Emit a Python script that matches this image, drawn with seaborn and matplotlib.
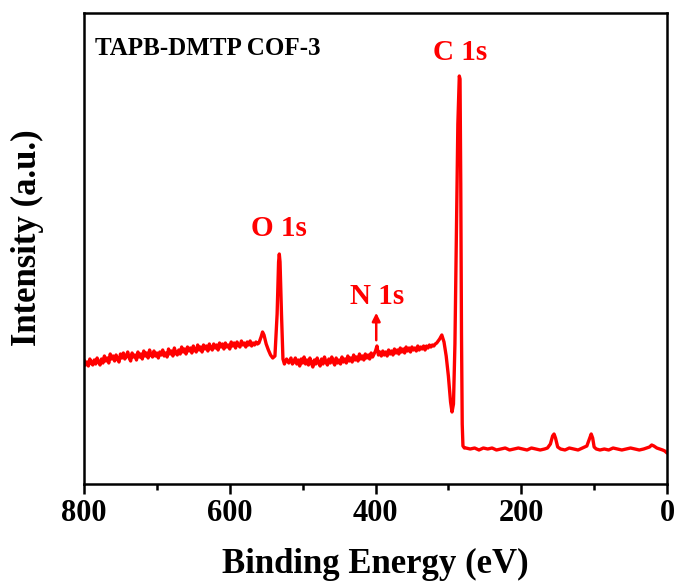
import matplotlib
matplotlib.use("Agg")
import matplotlib.pyplot as plt
import seaborn as sns
import pandas as pd
from matplotlib.ticker import MultipleLocator

# ---- data (binding energy in eV, intensity in a.u.) ----
# high-energy background (800 -> 562 eV, every 2 eV)
energy_bg1 = list(range(800, 561, -2))
intensity_bg1 = [
    124, 119, 122, 118, 125, 121, 119, 124, 120, 126, 122,
    119, 125, 121, 128, 123, 126, 121, 130, 125, 128,
    123, 129, 125, 122, 130, 126, 131, 125, 128, 132,
    126, 123, 131, 127, 129, 124, 132, 127, 130, 125,
    133, 128, 131, 126, 134, 129, 127, 133, 128, 131,
    126, 132, 129, 134, 128, 131, 127, 135, 130, 133,
    128, 136, 131, 129, 134, 130, 137, 132, 135, 130,
    137, 133, 136, 131, 138, 134, 132, 139, 134, 137,
    132, 139, 135, 138, 133, 140, 136, 134, 140, 136,
    139, 134, 141, 137, 140, 135, 141, 137, 139, 135,
    142, 138, 141, 136, 142, 139, 137, 143, 139, 141,
    137, 142, 139, 143, 138, 141, 139, 142, 140,
]
# O KLL shoulder and O 1s
energy_o = [560, 557, 555, 553, 550, 547, 544, 541, 538, 535, 533, 532, 531,
            529, 527, 525, 522, 519, 516, 514]
intensity_o = [141, 147, 152, 149, 140, 134, 129, 126, 128, 170, 222, 230, 222,
               170, 125, 120, 125, 121, 126, 120]
# middle background incl. N 1s (512 -> 314 eV, every 2 eV)
energy_bg2 = list(range(512, 313, -2))
intensity_bg2 = [
    122, 126, 120, 124, 118, 125, 121, 127, 120, 124,
    119, 126, 121, 117, 124, 120, 126, 121, 118, 125,
    120, 127, 122, 119, 125, 121, 127, 122, 119, 126,
    121, 124, 120, 127, 122, 125, 121, 128, 123, 126,
    122, 129, 124, 127, 123, 130, 125, 128, 124, 130,
    126, 129, 125, 131, 127, 130, 133, 138, 129, 132,
    128, 133, 129, 132, 128, 134, 130, 133, 129, 135,
    131, 134, 130, 136, 132, 135, 131, 137, 133, 136,
    132, 137, 134, 136, 133, 138, 134, 137, 135, 138,
    134, 138, 136, 139, 137, 139, 138, 140, 141, 143,
]
# shake-up region and C 1s
energy_c = [312, 309, 306, 303, 300, 297, 295, 293, 291, 289, 287, 285, 284,
            283, 282, 281, 280, 278]
intensity_c = [145, 149, 142, 128, 108, 82, 72, 80, 140, 250, 360, 408, 405,
               300, 150, 60, 38, 36]
# low-energy region
energy_low = [276, 270, 264, 258, 252, 246, 240, 234, 228, 222, 216, 210, 204,
              198, 192, 186, 180, 174, 168, 164, 160, 157, 155, 153, 150, 146,
              140, 134, 128, 122, 116, 110, 106, 104, 102, 100, 97, 92, 86, 80,
              74, 68, 62, 56, 50, 44, 38, 32, 28, 24, 21, 18, 14, 10, 6, 3, 0]
intensity_low = [36, 35, 36, 34, 36, 35, 36, 34, 35, 36, 34, 35, 36,
                 35, 34, 36, 35, 34, 35, 36, 40, 48, 50, 46, 37, 35,
                 34, 36, 35, 34, 36, 38, 46, 50, 46, 37, 35, 34, 35, 34,
                 36, 35, 34, 35, 36, 35, 34, 35, 36, 37, 39, 38, 36, 35, 34, 33, 31]

peak_labels = ["C 1s", "O 1s", "N 1s"]
peak_label_x = [284, 532, 398]
peak_label_y = [432, 256, 187]
sample_name = "TAPB-DMTP COF-3"
x_ticks = [800, 600, 400, 200, 0]

energy = energy_bg1 + energy_o + energy_bg2 + energy_c + energy_low
intensity = intensity_bg1 + intensity_o + intensity_bg2 + intensity_c + intensity_low
df = pd.DataFrame({"Binding Energy (eV)": energy, "Intensity (a.u.)": intensity})

sns.set_style("ticks")
plt.rcParams["font.family"] = ["Liberation Serif", "DejaVu Serif"]
plt.rcParams["font.weight"] = "bold"
plt.rcParams["text.color"] = "black"
plt.rcParams["axes.labelcolor"] = "black"
plt.rcParams["xtick.color"] = "black"

fig = plt.figure(figsize=(6.78, 5.86), dpi=100)
ax = fig.add_axes([84 / 678, 102 / 586, 583 / 678, 471 / 586])

sns.lineplot(data=df, x="Binding Energy (eV)", y="Intensity (a.u.)", ax=ax,
             color="#ff0000", linewidth=2.4, sort=False, estimator=None)

ax.set_xlim(800, 0)
ax.set_ylim(0, 471)
ax.set_xticks(x_ticks)
ax.set_xticklabels([str(t) for t in x_ticks])
ax.xaxis.set_minor_locator(MultipleLocator(100))
ax.set_yticks([])
ax.tick_params(axis="x", which="major", direction="out", length=7, width=1.8,
               labelsize=22, pad=4, colors="black")
ax.tick_params(axis="x", which="minor", direction="out", length=4, width=1.8,
               colors="black")
for lab in ax.get_xticklabels():
    lab.set_fontweight("bold")
for s in ax.spines.values():
    s.set_linewidth(1.8)
    s.set_visible(True)
    s.set_color("black")

ax.set_xlabel("Binding Energy (eV)", fontsize=25, fontweight="bold",
              color="black", labelpad=14)
ax.set_ylabel("Intensity (a.u.)", fontsize=25, fontweight="bold", color="black")
ax.yaxis.set_label_coords(-0.068, 0.522)

ax.text(0.019, 0.925, sample_name, transform=ax.transAxes, fontsize=18,
        fontweight="bold", color="black", ha="left", va="center")

for lbl, xx, yy in zip(peak_labels, peak_label_x, peak_label_y):
    ax.text(xx, yy, lbl, color="#ff0000", fontsize=21, fontweight="bold",
            ha="center", va="center")

# arrow for N 1s
ax.annotate("", xy=(399, 174), xytext=(399, 141),
            arrowprops=dict(arrowstyle="-|>", color="#ff0000", lw=1.8,
                            mutation_scale=12))

fig.savefig("out.png", dpi=100)
